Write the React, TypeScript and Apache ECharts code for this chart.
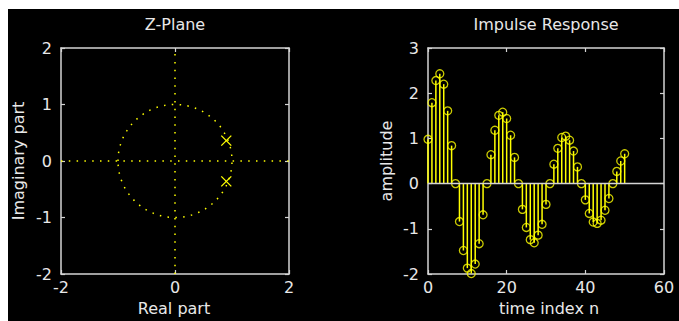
import React, { useEffect, useRef } from "react";
import * as echarts from "echarts";

// ---- data ----
const zRange = [-2, 2];
const unitCircle = [[0, 0, 1]]; // centre re, centre im, radius
const poleReal = [0.9, 0.9];
const poleImag = [0.36, -0.36];

const sampleIndex = [
  0, 1, 2, 3, 4, 5, 6, 7, 8, 9, 10, 11, 12, 13, 14, 15, 16, 17, 18, 19, 20,
  21, 22, 23, 24, 25, 26, 27, 28, 29, 30, 31, 32, 33, 34, 35, 36, 37, 38, 39,
  40, 41, 42, 43, 44, 45, 46, 47, 48, 49, 50,
];
const amplitude = [
  0.98, 1.79, 2.28, 2.43, 2.2, 1.61, 0.84, 0.0, -0.84, -1.48, -1.87, -1.99,
  -1.78, -1.33, -0.69, 0.0, 0.64, 1.18, 1.51, 1.58, 1.44, 1.07, 0.58, 0.0,
  -0.57, -0.97, -1.24, -1.31, -1.14, -0.9, -0.46, 0.0, 0.43, 0.78, 1.02, 1.05,
  0.96, 0.72, 0.37, 0.0, -0.36, -0.66, -0.85, -0.88, -0.81, -0.59, -0.33, 0.0,
  0.27, 0.5, 0.66,
];
const nRange = [0, 60];
const ampRange = [-2, 3];

const FONT = "DejaVu Sans";
const TXT = "#e8e8e8";
const AX = "#d4d4d4";
const YEL = "#ffff00";
const DOT = [1.5, 6.3];

function axisBase(show: boolean, margin = 8) {
  return {
    axisLine: { show: true, onZero: false, lineStyle: { color: AX, width: 1.5 } },
    axisTick: { show: true, inside: true, length: 4, lineStyle: { color: AX, width: 1.2 } },
    splitLine: { show: false },
    axisLabel: {
      show,
      color: TXT,
      fontFamily: FONT,
      fontSize: 16,
      margin,
      showMinLabel: true,
      showMaxLabel: true,
    },
  };
}

export default function App() {
  const ref = useRef<HTMLDivElement>(null);
  useEffect(() => {
    if (!ref.current) return;
    const chart = echarts.init(ref.current, null, { renderer: "svg" });
    const nameStyle = { fontFamily: FONT, fontSize: 16, fill: TXT, align: "center", verticalAlign: "middle" };

    const option: any = {
      animation: false,
      backgroundColor: "transparent",
      grid: [
        { left: 61, top: 48, width: 228, height: 226, containLabel: false },
        { left: 428, top: 48, width: 236, height: 226, containLabel: false },
      ],
      xAxis: [
        {
          type: "value", gridIndex: 0, position: "bottom",
          min: zRange[0], max: zRange[1], interval: 2,
          ...axisBase(true, 5),
        },
        {
          type: "value", gridIndex: 0, position: "top",
          min: zRange[0], max: zRange[1], interval: 2,
          ...axisBase(false),
        },
        {
          type: "value", gridIndex: 1, position: "bottom",
          min: nRange[0], max: nRange[1], interval: 20,
          ...axisBase(true, 5),
        },
        {
          type: "value", gridIndex: 1, position: "top",
          min: nRange[0], max: nRange[1], interval: 20,
          ...axisBase(false),
        },
      ],
      yAxis: [
        {
          type: "value", gridIndex: 0, position: "left",
          min: zRange[0], max: zRange[1], interval: 1,
          ...axisBase(true, 9),
        },
        {
          type: "value", gridIndex: 0, position: "right",
          min: zRange[0], max: zRange[1], interval: 1,
          ...axisBase(false),
        },
        {
          type: "value", gridIndex: 1, position: "left",
          min: ampRange[0], max: ampRange[1], interval: 1,
          ...axisBase(true, 9),
        },
        {
          type: "value", gridIndex: 1, position: "right",
          min: ampRange[0], max: ampRange[1], interval: 1,
          ...axisBase(false),
        },
      ],
      series: [
        {
          type: "line", xAxisIndex: 0, yAxisIndex: 0, silent: true,
          symbol: "none",
          data: [[zRange[0], 0], [zRange[1], 0]],
          lineStyle: { color: YEL, width: 1.5, type: DOT },
        },
        {
          type: "line", xAxisIndex: 0, yAxisIndex: 0, silent: true,
          symbol: "none",
          data: [[0, zRange[0]], [0, zRange[1]]],
          lineStyle: { color: YEL, width: 1.5, type: DOT },
        },
        {
          type: "custom", xAxisIndex: 0, yAxisIndex: 0, silent: true,
          encode: { x: 0, y: 1 },
          data: unitCircle,
          renderItem: (_p: any, api: any) => {
            const c = api.coord([api.value(0), api.value(1)]);
            const s = api.size([api.value(2), api.value(2)]);
            return {
              type: "ellipse",
              shape: { cx: c[0], cy: c[1], rx: s[0], ry: s[1] },
              style: { fill: "none", stroke: YEL, lineWidth: 1.5, lineDash: DOT },
            };
          },
        },
        {
          type: "custom", xAxisIndex: 0, yAxisIndex: 0, silent: true,
          encode: { x: 0, y: 1 },
          data: poleReal.map((r, i) => [r, poleImag[i]]),
          renderItem: (_p: any, api: any) => {
            const c = api.coord([api.value(0), api.value(1)]);
            const h = 5;
            const st = { stroke: YEL, lineWidth: 1.3 };
            return {
              type: "group",
              children: [
                { type: "line", shape: { x1: c[0] - h, y1: c[1] - h, x2: c[0] + h, y2: c[1] + h }, style: st },
                { type: "line", shape: { x1: c[0] - h, y1: c[1] + h, x2: c[0] + h, y2: c[1] - h }, style: st },
              ],
            };
          },
        },
        {
          type: "custom", xAxisIndex: 2, yAxisIndex: 2, silent: true,
          encode: { x: 0, y: 1 },
          data: sampleIndex.map((n, i) => [n, amplitude[i]]),
          renderItem: (_p: any, api: any) => {
            const a = api.coord([api.value(0), 0]);
            const b = api.coord([api.value(0), api.value(1)]);
            return {
              type: "line",
              shape: { x1: a[0], y1: a[1], x2: b[0], y2: b[1] },
              style: { stroke: YEL, lineWidth: 1.5 },
            };
          },
          z: 2,
        },
        {
          type: "scatter", xAxisIndex: 2, yAxisIndex: 2, silent: true,
          data: sampleIndex.map((n, i) => [n, amplitude[i]]),
          symbol: "circle",
          symbolSize: 8,
          itemStyle: { color: "transparent", borderColor: YEL, borderWidth: 1.3 },
          z: 3,
        },
        {
          type: "line", xAxisIndex: 2, yAxisIndex: 2, silent: true,
          symbol: "none",
          data: [[nRange[0], 0], [nRange[1], 0]],
          lineStyle: { color: AX, width: 1.5 },
          z: 4,
        },
      ],
      graphic: [
        { type: "text", x: 175, y: 24, silent: true, style: { ...nameStyle, text: "Z-Plane" } },
        { type: "text", x: 546, y: 24, silent: true, style: { ...nameStyle, text: "Impulse Response" } },
        { type: "text", x: 174, y: 308, silent: true, style: { ...nameStyle, text: "Real part" } },
        { type: "text", x: 549, y: 308, silent: true, style: { ...nameStyle, text: "time index n" } },
        { type: "text", x: 18, y: 161, rotation: Math.PI / 2, silent: true, style: { ...nameStyle, text: "Imaginary part" } },
        { type: "text", x: 386, y: 161, rotation: Math.PI / 2, silent: true, style: { ...nameStyle, text: "amplitude" } },
      ],
    };
    chart.setOption(option);
    return () => chart.dispose();
  }, []);

  return (
    <div style={{ position: "fixed", left: 0, top: 0, width: 679, height: 321, background: "#ffffff" }}>
      <div style={{ position: "absolute", left: 8, top: 9, width: 671, height: 312, background: "#000000" }} />
      <div ref={ref} style={{ position: "absolute", left: 0, top: 0, width: 679, height: 321 }} />
    </div>
  );
}
